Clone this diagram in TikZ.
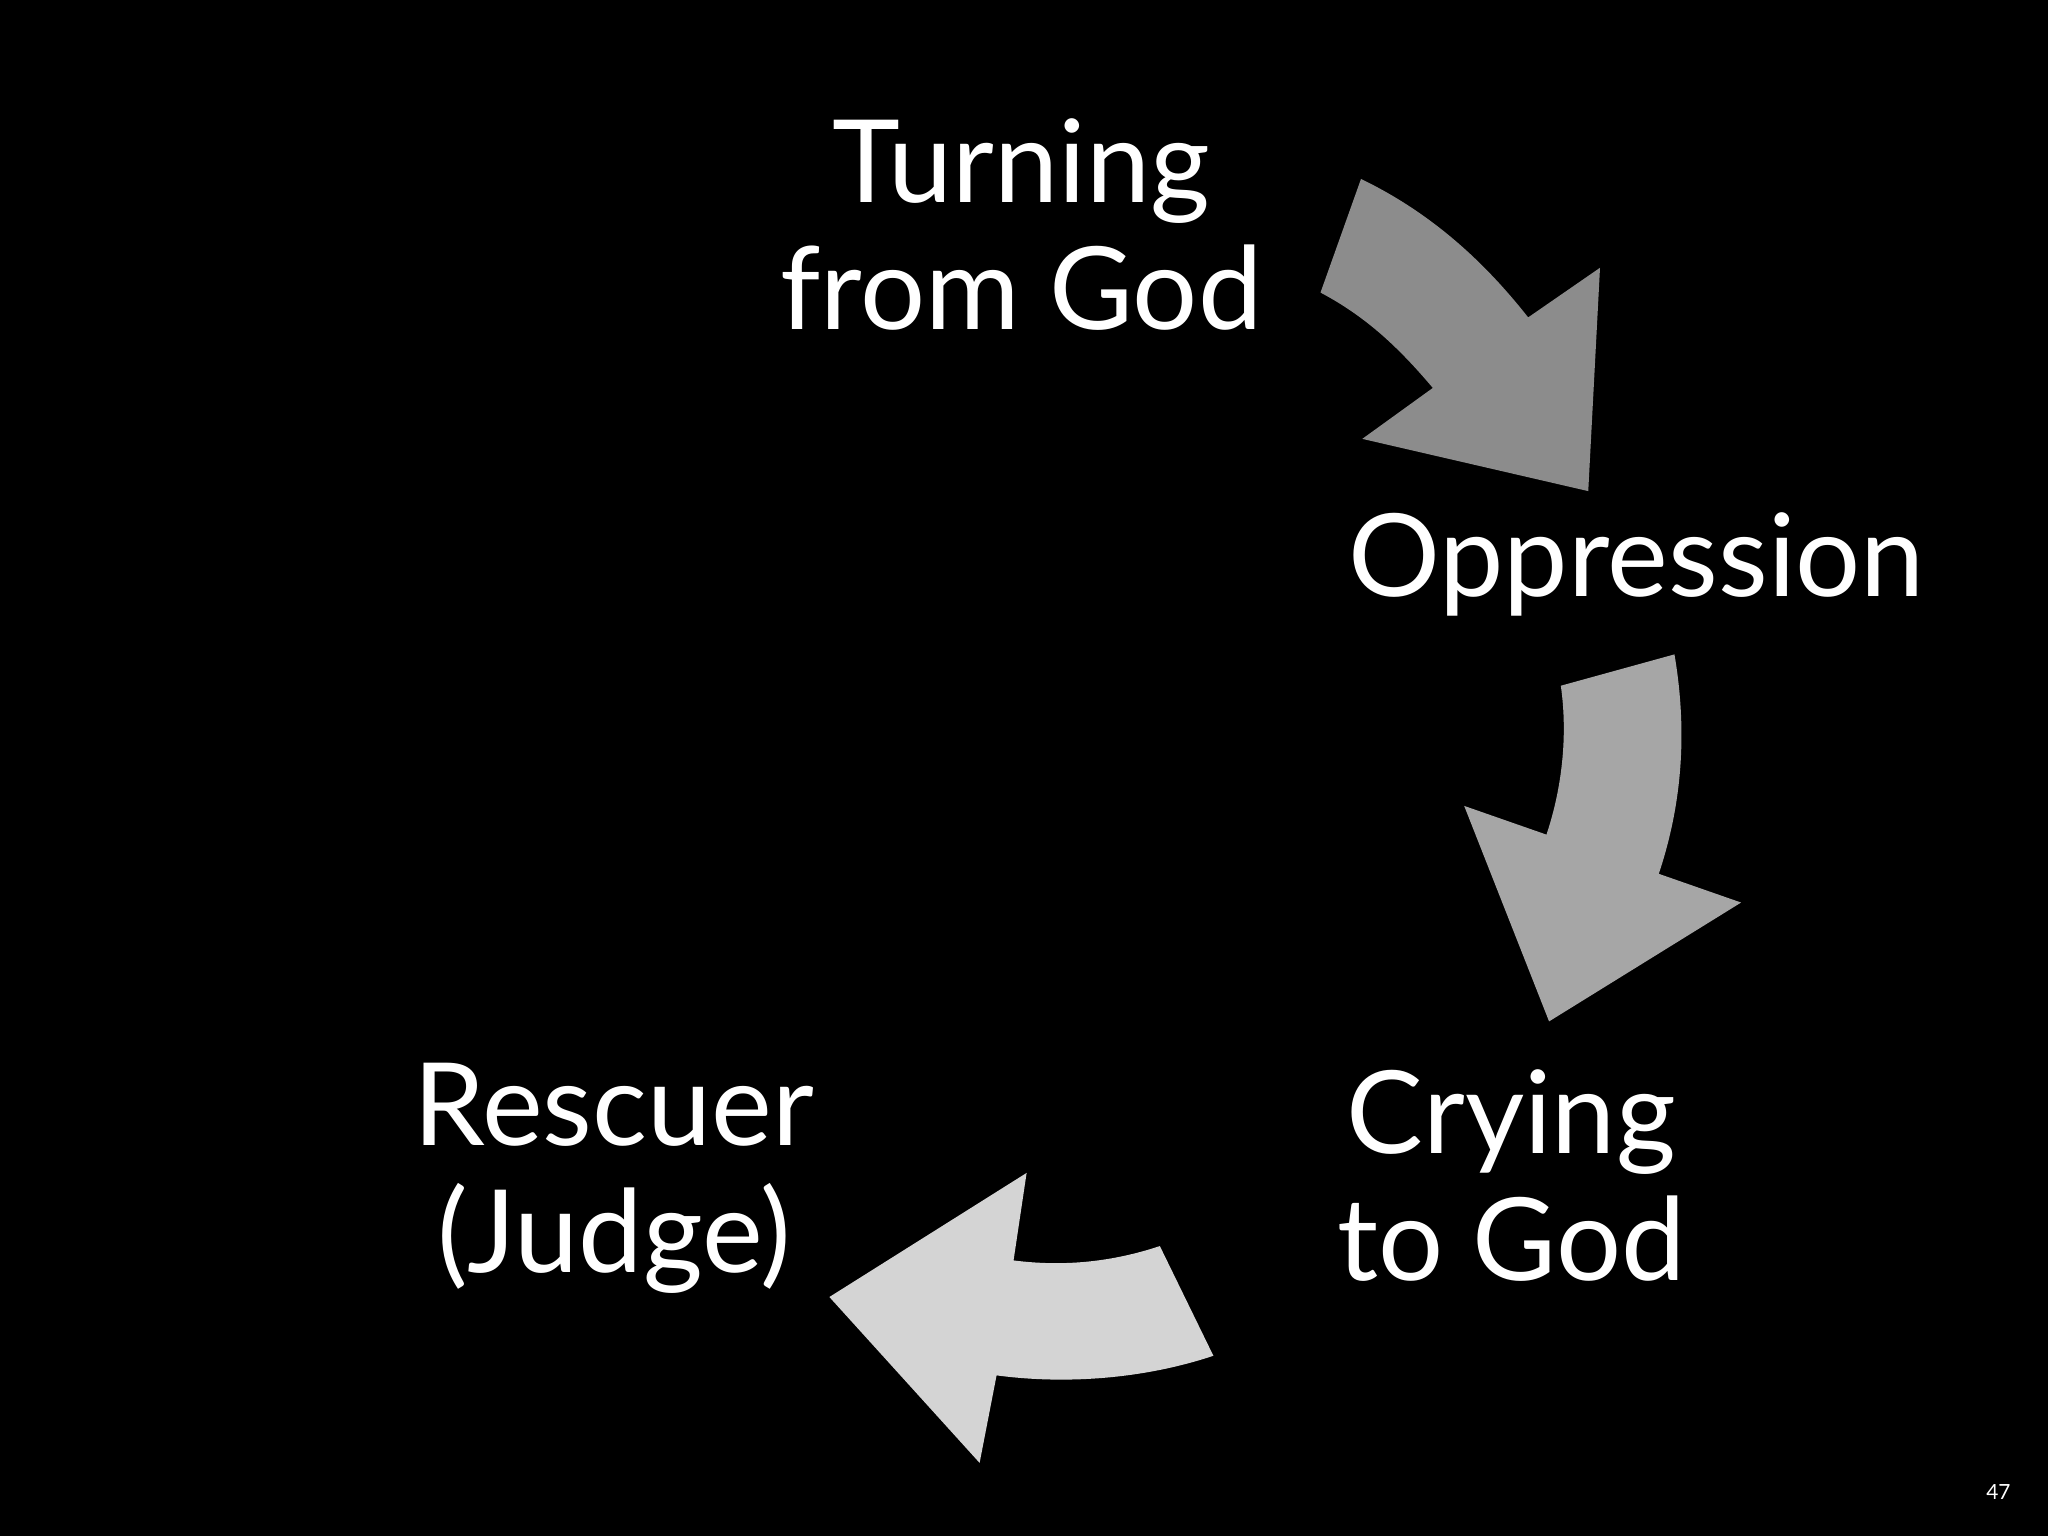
\documentclass[tikz,border=0pt]{standalone}
\usepackage{fontspec}
\setmainfont{Lato}
\begin{document}
\begin{tikzpicture}[x=1pt,y=-1pt,
  lbl/.style={text=white,align=center,font=\fontsize{88}{97}\selectfont}]
\fill[black] (0,0) rectangle (1568,1176);
\useasboundingbox (0,0) rectangle (1568,1176);
\fill[fill={rgb,255:red,140;green,140;blue,140}] (1042,137) .. controls (1100,165) and (1140,205) .. (1170,243) -- (1225,205) -- (1216,376) -- (1043,336) -- (1097,297) .. controls (1070,265) and (1045,242) .. (1011,224) -- cycle;
\fill[fill={rgb,255:red,166;green,166;blue,166}] (1195,525) -- (1282,501) .. controls (1292,560) and (1288,615) .. (1270,669) -- (1333,691) -- (1186,782) -- (1121,617) -- (1184,639) .. controls (1197,600) and (1200,560) .. (1195,525) -- cycle;
\fill[fill={rgb,255:red,212;green,212;blue,212}] (888,954) -- (929,1038) .. controls (875,1056) and (815,1060) .. (763,1053) -- (750,1120) -- (635,993) -- (786,898) -- (776,965) .. controls (815,970) and (852,966) .. (888,954) -- cycle;
\node[lbl] (turn) at (782,172) {Turning\\from God};
\node[lbl] (opp) at (1253,432) {Oppression};
\node[lbl] (cry) at (1157,900) {Crying\\to God};
\node[lbl] (res) at (470,902) {Rescuer\\(Judge)};
\node[text=white,font=\fontsize{16}{18}\selectfont] (pg) at (1530,1142) {47};
\end{tikzpicture}
\end{document}
